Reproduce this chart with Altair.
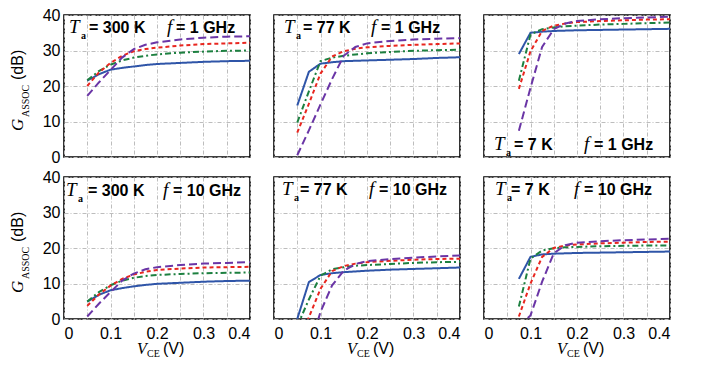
import altair as alt
import pandas as pd

# ---------------- data ----------------
x_vals = [0.05, 0.075, 0.1, 0.125, 0.15, 0.175, 0.2, 0.25, 0.3, 0.35, 0.4]
series_names = ["blue", "green", "red", "purple"]
series_colors = ["#2f55a8", "#1d8040", "#e8261f", "#6a35a6"]
series_dashes = [[1, 0], [6, 3, 2, 3], [4, 3], [8, 4]]

temps = ["300 K", "77 K", "7 K", "300 K", "77 K", "7 K"]
freqs = ["1 GHz", "1 GHz", "1 GHz", "10 GHz", "10 GHz", "10 GHz"]

# Panel A: Ta = 300 K, f = 1 GHz
A_blue = [21.5, 23.3, 24.6, 25.1, 25.5, 25.9, 26.2, 26.5, 26.8, 27.0, 27.1]
A_green = [21.6, 24.2, 26.0, 27.2, 28.0, 28.5, 28.9, 29.4, 29.7, 29.9, 30.0]
A_red = [20.0, 23.8, 26.5, 28.5, 29.8, 30.4, 30.8, 31.4, 31.8, 32.0, 32.2]
A_purple = [17.2, 21.0, 24.5, 28.0, 30.4, 31.6, 32.3, 33.1, 33.6, 33.9, 34.0]

# Panel B: Ta = 77 K, f = 1 GHz
B_blue = [14.5, 24.0, 26.3, 26.7, 27.0, 27.1, 27.2, 27.4, 27.6, 27.9, 28.1]
B_green = [9.7, 18.5, 27.0, 28.0, 28.5, 28.9, 29.2, 29.6, 29.9, 30.1, 30.2]
B_red = [6.9, 15.0, 23.5, 28.3, 29.8, 30.5, 30.9, 31.3, 31.6, 31.8, 32.0]
B_purple = [0.5, 7.5, 14.8, 22.0, 28.5, 31.0, 32.0, 32.7, 33.1, 33.3, 33.5]

# Panel C: Ta = 7 K, f = 1 GHz
C_blue = [None, 29.0, 35.0, 35.3, 35.5, 35.6, 35.7, 35.8, 35.9, 36.0, 36.1]
C_green = [None, 21.5, 34.5, 36.0, 36.5, 36.8, 37.0, 37.3, 37.5, 37.7, 37.9]
C_red = [None, 19.2, 29.8, 35.5, 37.0, 37.6, 38.0, 38.3, 38.5, 38.7, 38.8]
C_purple = [None, 7.4, 19.5, 31.0, 36.0, 37.6, 38.3, 38.8, 39.1, 39.3, 39.5]

# Panel D: Ta = 300 K, f = 10 GHz
D_blue = [4.9, 6.8, 8.1, 8.7, 9.2, 9.6, 9.9, 10.2, 10.5, 10.7, 10.8]
D_green = [4.9, 7.6, 9.5, 10.8, 11.6, 12.1, 12.4, 12.7, 12.9, 13.0, 13.1]
D_red = [3.7, 6.9, 9.4, 11.3, 12.5, 13.3, 13.8, 14.2, 14.5, 14.6, 14.7]
D_purple = [0.7, 4.3, 7.6, 10.8, 12.8, 14.0, 14.6, 15.2, 15.6, 15.8, 16.0]

# Panel E: Ta = 77 K, f = 10 GHz
E_blue = [0.0, 10.4, 12.4, 12.9, 13.2, 13.4, 13.6, 13.9, 14.1, 14.3, 14.5]
E_green = [-2.0, 5.5, 12.2, 14.0, 14.6, 15.0, 15.2, 15.5, 15.8, 16.0, 16.1]
E_red = [-8.0, 0.5, 8.5, 13.5, 14.9, 15.6, 16.0, 16.4, 16.7, 16.9, 17.0]
E_purple = [-20.0, -9.0, 2.0, 9.5, 13.6, 15.5, 16.3, 16.9, 17.3, 17.6, 17.9]

# Panel F: Ta = 7 K, f = 10 GHz
F_blue = [None, 11.3, 17.5, 18.2, 18.4, 18.5, 18.6, 18.7, 18.8, 18.9, 19.0]
F_green = [None, 3.5, 17.0, 19.3, 19.9, 20.2, 20.3, 20.5, 20.6, 20.7, 20.7]
F_red = [None, 0.7, 10.0, 17.5, 20.0, 20.7, 21.0, 21.3, 21.5, 21.7, 21.8]
F_purple = [None, -2.0, 1.0, 10.5, 18.5, 20.8, 21.5, 21.9, 22.2, 22.4, 22.6]

panel_values = [
    [A_blue, A_green, A_red, A_purple],
    [B_blue, B_green, B_red, B_purple],
    [C_blue, C_green, C_red, C_purple],
    [D_blue, D_green, D_red, D_purple],
    [E_blue, E_green, E_red, E_purple],
    [F_blue, F_green, F_red, F_purple],
]

x_grid = [0, 0.05, 0.1, 0.15, 0.2, 0.25, 0.3, 0.35, 0.4]
y_ticks = [0, 10, 20, 30, 40]

# ---------------- layout ----------------
W = 186
H = 142
SANS = "Liberation Sans"
SERIF = "Liberation Serif"

# (T x, "=" x, f x, "= GHz" x, baseline y)
label_pos = [
    (5, 25, 103, 112, 18),
    (10, 29, 97, 107, 18),
    (10, 30, 100, 110, H - 7),
    (2, 24, 99, 109, 19),
    (8, 26, 95, 105, 18),
    (11, 27, 90, 100, 18),
]


def txt(s, x, y, font=SANS, size=16, weight="normal", style="normal", angle=0):
    kw = dict(align="left", baseline="alphabetic", font=font, fontSize=size,
              fontWeight=weight, fontStyle=style, color="black")
    if angle:
        kw["angle"] = angle
    return alt.Chart(pd.DataFrame({"t": [s]})).mark_text(**kw).encode(
        text="t:N", x=alt.value(x), y=alt.value(y))


def panel(i):
    row, col = divmod(i, 3)
    rows = []
    for si, ys in enumerate(panel_values[i]):
        for k, (xv, yv) in enumerate(zip(x_vals, ys)):
            if yv is None:
                continue
            rows.append({"x": xv, "y": yv, "series": series_names[si], "o": k})
    df = pd.DataFrame(rows)

    x_axis = alt.Axis(
        values=x_grid,
        labelExpr="round(datum.value*20) % 2 == 0 ? (datum.value == 0 ? '0' : format(datum.value, '.1f')) : ''",
        labels=(row == 1), title=None, ticks=False, domain=False,
        grid=True, gridDash=[4, 2, 1, 2], gridColor="#bdbdbd", gridWidth=1,
        labelFont=SANS, labelFontSize=16, labelColor="black", labelPadding=6,
        minExtent=0)
    y_axis = alt.Axis(
        values=y_ticks, labels=(col == 0), title=None, ticks=False, domain=False,
        grid=True, gridDash=[4, 2, 1, 2], gridColor="#bdbdbd", gridWidth=1,
        labelFont=SANS, labelFontSize=16, labelColor="black", labelPadding=4,
        minExtent=0)

    lines = alt.Chart(df).mark_line(strokeWidth=2, clip=True).encode(
        x=alt.X("x:Q", scale=alt.Scale(domain=[0, 0.4], nice=False, zero=False), axis=x_axis),
        y=alt.Y("y:Q", scale=alt.Scale(domain=[0, 40], nice=False), axis=y_axis),
        color=alt.Color("series:N", scale=alt.Scale(domain=series_names, range=series_colors), legend=None),
        strokeDash=alt.StrokeDash("series:N", scale=alt.Scale(domain=series_names, range=series_dashes), legend=None),
        order="o:Q",
    )

    tx, eqx, fx, gx, by = label_pos[i]
    layers = [
        lines,
        txt("T", tx, by, font=SERIF, size=19, style="italic"),
        txt("a", tx + 12, by + 6, font=SERIF, size=10, weight="bold"),
        txt("= " + temps[i], eqx, by, weight="bold", size=16),
        txt("f", fx, by, font=SERIF, size=19, style="italic"),
        txt("= " + freqs[i], gx, by, weight="bold", size=16),
    ]
    if col == 0:
        layers += [
            txt("G", -41, 116, font=SERIF, size=17, style="italic", angle=270),
            txt("ASSOC", -35.5, 102, font=SERIF, size=10, angle=270),
            txt("(dB)", -41.5, 65, size=16, angle=270),
        ]
    if row == 1:
        layers += [
            txt("V", 73, H + 35, font=SERIF, size=16, style="italic"),
            txt("CE", 83, H + 37.5, font=SERIF, size=10),
            txt("(V)", 99, H + 35, size=16),
        ]
    return alt.layer(*layers).properties(width=W, height=H)


chart = alt.concat(
    *[panel(i) for i in range(6)], columns=3,
    spacing={"row": 20, "column": 24}, bounds="flush"
).properties(
    padding={"left": 0, "top": -2, "right": 0, "bottom": 0}
).configure_view(stroke="black", strokeWidth=1.6).configure_axis(minExtent=0)

chart.save("out.html", embed_options={"renderer": "svg", "actions": False})
